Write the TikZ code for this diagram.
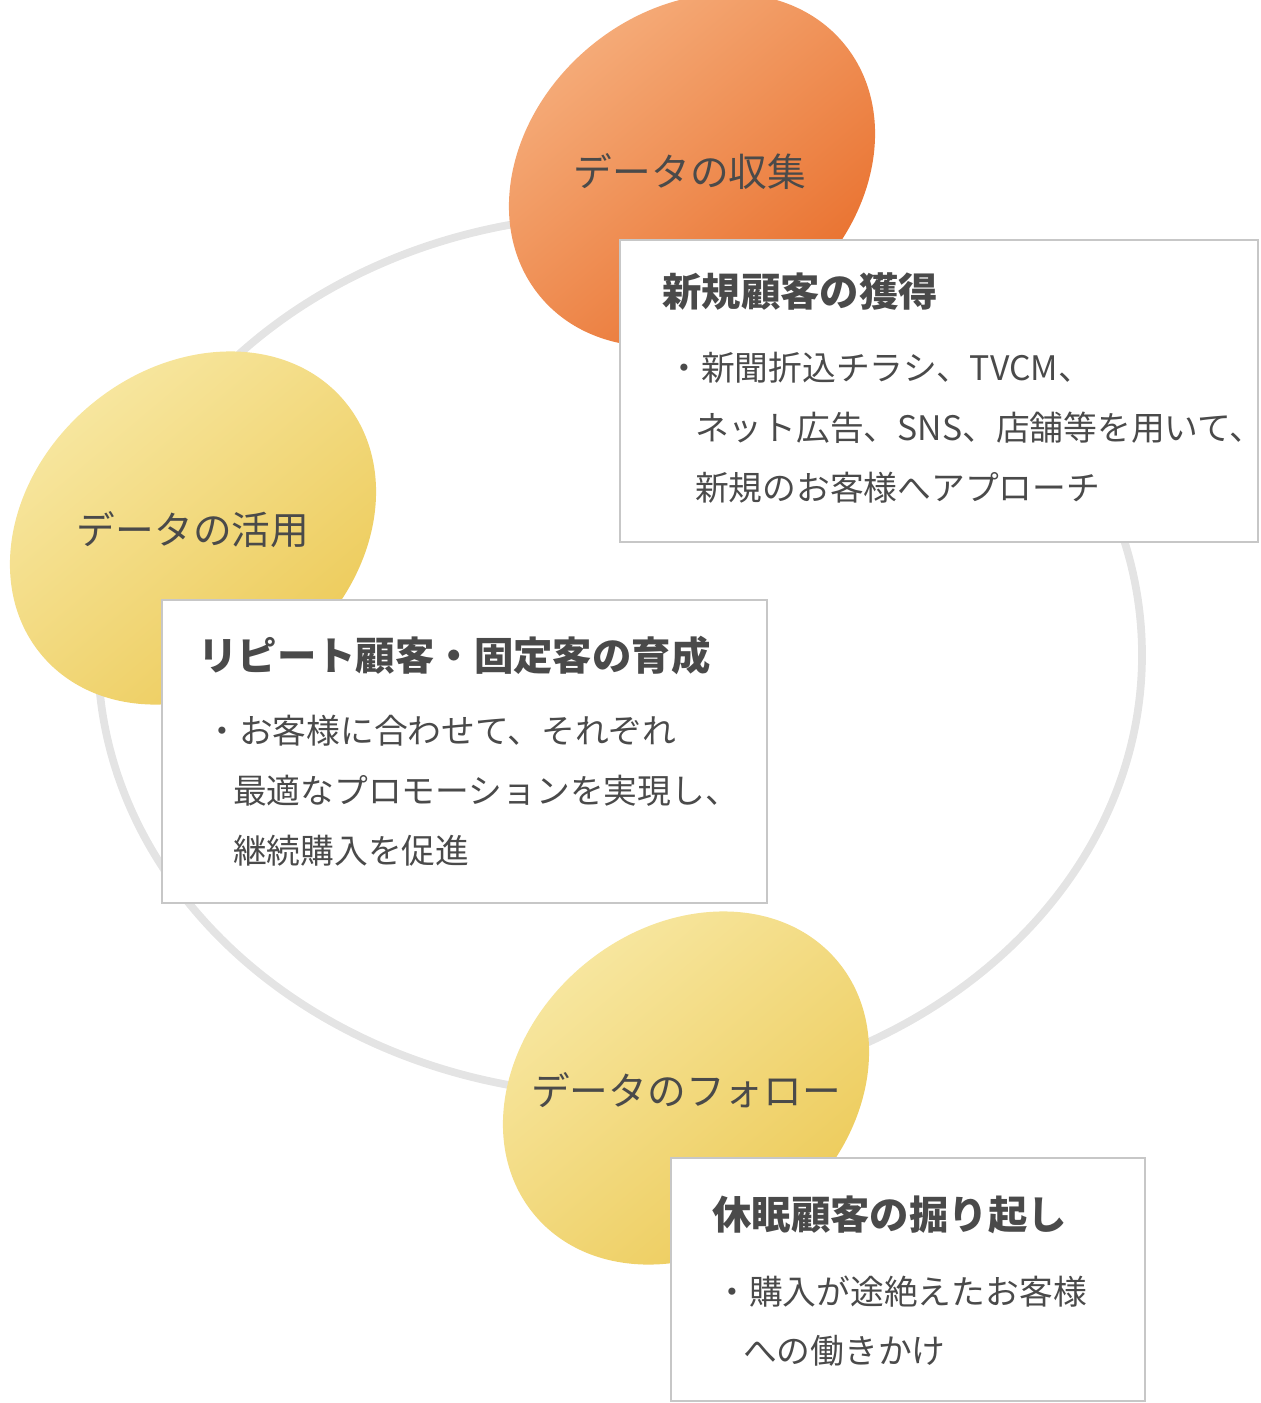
\documentclass[tikz,border=0pt]{standalone}
\usepackage{fontspec}
\setmainfont{Noto Sans CJK JP}
\usetikzlibrary{shapes.geometric}
\definecolor{txt}{HTML}{4A4A4A}
\definecolor{ring}{HTML}{E4E4E4}
\definecolor{orlight}{HTML}{F6B180}
\definecolor{ordark}{HTML}{E86C28}
\definecolor{yelight}{HTML}{F8E9A6}
\definecolor{yedark}{HTML}{ECC955}
\tikzset{
  egg/.style={ellipse, minimum width=3.95cm, minimum height=3.2cm, rotate=40, inner sep=0pt},
  orangeegg/.style={egg, left color=orlight, right color=ordark, shading angle=40},
  yellowegg/.style={egg, left color=yelight, right color=yedark, shading angle=40},
  eggtext/.style={text=txt, font=\fontsize{11}{13}\selectfont},
  infobox/.style={draw=black!22, fill=white, line width=0.6pt},
  boxtitle/.style={text=txt, anchor=west, font=\bfseries\fontsize{11.2}{13}\selectfont},
  boxbody/.style={text=txt, anchor=north west, align=left, font=\fontsize{9.6}{17}\selectfont},
}
\begin{document}
\begin{tikzpicture}[x=0.01cm,y=-0.01cm]
    \useasboundingbox (0,0) rectangle (1260,1403);
    \draw[ring, line width=2.2pt] (620,655) ellipse [x radius=522, y radius=440];

    \node[orangeegg] (collect) at (692,170) {};
    \node[yellowegg] (use) at (193,528) {};
    \node[yellowegg] (follow) at (686,1088) {};

    \node[eggtext] at (690,172) {データの収集};
    \node[eggtext] at (193,530) {データの活用};
    \node[eggtext] at (686,1090) {データのフォロー};

    \draw[infobox] (620,240) rectangle (1258,542);
    \node[boxtitle] (newt) at (650,292) {新規顧客の獲得};
    \node[boxbody] (newb) at (655,340) {・新聞折込チラシ、TVCM、\\\hspace*{0.82em}ネット広告、SNS、店舗等を用いて、\\\hspace*{0.82em}新規のお客様へアプローチ};

    \draw[infobox] (162,600) rectangle (767,903);
    \node[boxtitle] (rept) at (186,655) {リピート顧客・固定客の育成};
    \node[boxbody] (repb) at (193,703) {・お客様に合わせて、それぞれ\\\hspace*{0.82em}最適なプロモーションを実現し、\\\hspace*{0.82em}継続購入を促進};

    \draw[infobox] (671,1158) rectangle (1145,1401);
    \node[boxtitle] (slpt) at (700,1215) {休眠顧客の掘り起し};
    \node[boxbody] (slpb) at (703,1263) {・購入が途絶えたお客様\\\hspace*{0.82em}への働きかけ};
\end{tikzpicture}
\end{document}
